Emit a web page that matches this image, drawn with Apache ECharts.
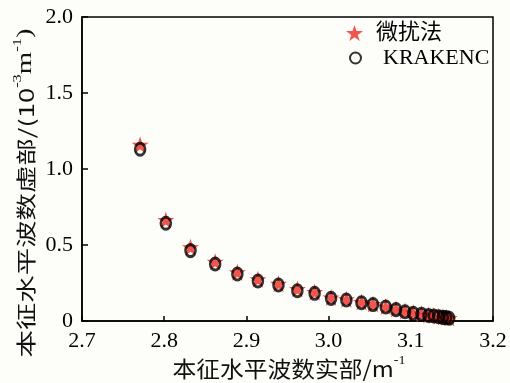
<!DOCTYPE html>
<html>
<head>
<meta charset="utf-8">
<script src="https://cdn.jsdelivr.net/npm/echarts@6/dist/echarts.min.js"></script>
<style>html,body{margin:0;padding:0;background:#fdfdf9;}#c{width:510px;height:383px;}</style>
</head>
<body>
<div id="c"></div>
<script>
// Data
var seriesNames = ['微扰法', 'KRAKENC'];
var krakenX = [2.7707, 2.802, 2.832, 2.862, 2.889, 2.914, 2.939, 2.962, 2.983, 3.003, 3.0216, 3.040, 3.054, 3.0695, 3.082, 3.093, 3.103, 3.113, 3.1215, 3.128, 3.134, 3.139, 3.143, 3.1467];
var krakenY = [1.13, 0.643, 0.463, 0.375, 0.309, 0.263, 0.237, 0.199, 0.182, 0.149, 0.138, 0.120, 0.108, 0.092, 0.075, 0.061, 0.051, 0.045, 0.036, 0.033, 0.028, 0.024, 0.022, 0.018];
var pertX = [2.7707, 2.802, 2.832, 2.862, 2.889, 2.914, 2.939, 2.962, 2.983, 3.003, 3.0216, 3.040, 3.054, 3.0695, 3.082, 3.093, 3.103, 3.113, 3.1215, 3.128, 3.134, 3.139, 3.143, 3.1467];
var pertY = [1.16, 0.665, 0.485, 0.39, 0.32, 0.275, 0.245, 0.21, 0.19, 0.155, 0.143, 0.125, 0.112, 0.096, 0.079, 0.065, 0.055, 0.048, 0.040, 0.036, 0.031, 0.027, 0.024, 0.020];
var xTicks = {min: 2.7, max: 3.2, interval: 0.1};
var yTicks = {min: 0, max: 2.0, interval: 0.5};
var xTitle = '本征水平波数实部/m';
var yTitle = '本征水平波数虚部/(10';

function pairs(xs, ys) { return xs.map(function (x, i) { return [x, ys[i]]; }); }

var STAR = 'path://M50,0 L61.2,34.5 L97.6,34.5 L68.2,55.9 L79.4,90.5 L50,69.1 L20.6,90.5 L31.8,55.9 L2.4,34.5 L38.8,34.5 Z';
var serif = '"Liberation Serif", "Times New Roman", "Noto Sans CJK SC", serif';
var cjk = '"Noto Sans CJK SC", "Liberation Serif", serif';

var chart = echarts.init(document.getElementById('c'));
chart.setOption({
  backgroundColor: '#fdfdf9',
  animation: false,
  grid: {left: 82, right: 17, top: 17, bottom: 62, show: true, borderColor: '#000', borderWidth: 1.5, backgroundColor: 'transparent'},
  legend: [
    {
      left: 341, top: 17, itemGap: 0, itemWidth: 17, itemHeight: 17,
      textStyle: {fontFamily: serif, fontSize: 22, color: '#000', padding: [0, 0, 0, 8]},
      data: [seriesNames[0]]
    },
    {
      left: 344, top: 42, itemGap: 0, itemWidth: 11, itemHeight: 11,
      textStyle: {fontFamily: serif, fontSize: 22, color: '#000', padding: [0, 0, 0, 17]},
      data: [seriesNames[1]]
    }
  ],
  xAxis: {
    type: 'value', min: xTicks.min, max: xTicks.max, interval: xTicks.interval,
    axisLine: {lineStyle: {color: '#000', width: 1.5}},
    axisTick: {inside: true, length: 5, lineStyle: {color: '#000', width: 1.5}},
    splitLine: {show: false},
    axisLabel: {fontFamily: serif, fontSize: 22, color: '#000', margin: 9, formatter: function (v) { return v.toFixed(1); }}
  },
  yAxis: {
    type: 'value', min: yTicks.min, max: yTicks.max, interval: yTicks.interval,
    axisLine: {lineStyle: {color: '#000', width: 1.5}},
    axisTick: {inside: true, length: 6, lineStyle: {color: '#000', width: 1.5}},
    splitLine: {show: false},
    axisLabel: {fontFamily: serif, fontSize: 22, color: '#000', margin: 9, formatter: function (v) { return v === 0 ? '0' : v.toFixed(1); }}
  },
  graphic: [
    {
      type: 'text', x: 289, y: 367,
      scaleX: 1.08,
      style: {
        text: '{a|' + xTitle + '}{s|-1}',
        align: 'center', verticalAlign: 'middle',
        rich: {
          a: {fontFamily: cjk, fontSize: 22, fill: '#111', lineHeight: 26, verticalAlign: 'bottom'},
          s: {fontFamily: serif, fontSize: 13, fill: '#111', lineHeight: 26, verticalAlign: 'top'}
        }
      }
    },
    {
      type: 'text', x: 24, y: 193, rotation: Math.PI / 2,
      scaleX: 1.37,
      style: {
        text: '{a|' + yTitle + '}{s|-3}{b|m}{s|-1}{b|)}',
        align: 'center', verticalAlign: 'middle',
        rich: {
          a: {fontFamily: cjk, fontSize: 20, fill: '#111', lineHeight: 24, verticalAlign: 'bottom'},
          b: {fontFamily: serif, fontSize: 21, fill: '#111', lineHeight: 24, verticalAlign: 'bottom'},
          s: {fontFamily: serif, fontSize: 12, fill: '#111', lineHeight: 24, verticalAlign: 'top'}
        }
      }
    }
  ],
  series: [
    {
      name: seriesNames[0], type: 'scatter', symbol: STAR, symbolSize: 17, z: 2,
      itemStyle: {color: '#ee2a22'},
      data: pairs(pertX, pertY)
    },
    {
      name: seriesNames[1], type: 'scatter', symbol: 'circle', symbolSize: [10, 12], z: 3,
      itemStyle: {color: 'rgba(0,0,0,0)', borderColor: '#000', borderWidth: 2.8},
      data: pairs(krakenX, krakenY)
    }
  ]
});
</script>
</body>
</html>
